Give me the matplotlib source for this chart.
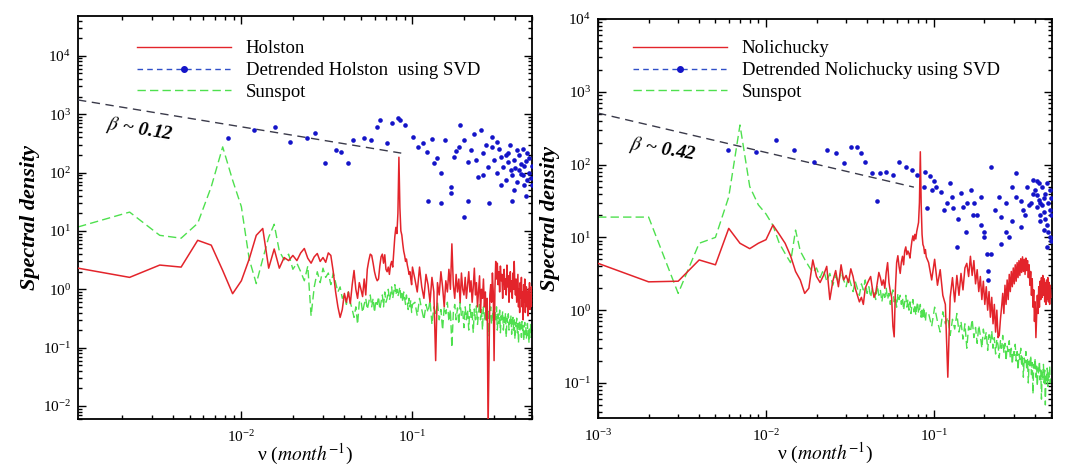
import numpy as np
import matplotlib.pyplot as plt
from matplotlib.lines import Line2D
from matplotlib.ticker import NullFormatter

plt.rcParams['font.family'] = ['Liberation Serif', 'DejaVu Serif']
plt.rcParams['mathtext.fontset'] = 'stix'

# record lengths in months -> harmonic k sits at k / n
n_hol = 900
n_nol = 1000

# ---- Holston panel ----
# harmonics 1..90
holston_lo = [2.3, 1.6, 2.6, 2.4, 6.9, 5.7, 2.1, 0.84, 1.4, 3.3,
              8.4, 11, 2.3, 4.9, 2.3, 3.5, 3.1, 3.8, 3.1, 4.2,
              5.0, 3.4, 2.8, 3.6, 4.1, 3.0, 3.5, 2.9, 4.2, 3.8,
              2.0, 0.9, 0.5, 0.33, 0.45, 0.85, 0.6, 0.9, 0.57, 1.2,
              2.1, 1.0, 0.7, 1.3, 1.0, 0.75, 1.5, 0.8, 2.2, 3.1,
              4.0, 3.8, 2.8, 2.0, 1.6, 1.4, 1.5, 2.5, 3.6, 4.0,
              2.8, 3.9, 2.2, 2.0, 2.4, 1.8, 2.6, 3.0, 2.4, 4.5,
              8.0, 11.5, 9.0, 20, 183, 25, 10, 8.5, 6.0, 4.5,
              3.8, 3.0, 3.3, 2.6, 2.2, 1.8, 2.0, 1.5, 1.2, 2.4]
# harmonics 93, 96, ... 450
holston_hi = [1.5, 0.9, 2.4, 1.1, 0.7, 1.8, 1.2, 0.6, 1.6, 0.9,
              0.06, 1.3, 0.8, 2.0, 1.1, 0.5, 1.4, 0.9, 2.2, 1.0,
              6.0, 1.2, 0.7, 1.8, 0.9, 1.5, 0.6, 1.9, 1.0, 0.8,
              1.6, 0.7, 1.2, 2.0, 0.9, 1.4, 0.6, 1.1, 2.3, 0.8,
              1.3, 0.5, 0.9, 1.7, 0.4, 1.0, 0.7, 1.5, 0.5, 0.9,
              0.3, 0.7, 0.004, 0.05, 0.8, 1.2, 0.6, 1.9, 0.9, 0.06,
              1.0, 3.0, 1.5, 2.8, 1.2, 2.0, 0.9, 2.5, 1.4, 1.8,
              0.7, 1.6, 2.2, 1.0, 1.5, 0.8, 2.6, 1.1, 1.7, 0.6,
              1.3, 2.0, 0.9, 1.4, 0.7, 1.9, 1.0, 3.0, 1.2, 0.8,
              1.5, 0.6, 1.1, 1.8, 0.5, 1.0, 0.4, 1.3, 0.7, 1.6,
              0.5, 0.9, 0.3, 1.2, 0.6, 1.5, 0.4, 0.8, 1.1, 0.5,
              0.9, 0.35, 1.0, 0.6, 1.3, 0.45, 0.8, 0.5, 1.1, 0.7]
sun_l_lo = [11.7, 21, 8.4, 7.5, 13.5, 57, 275, 74, 26, 3.3,
            1.25, 3.3, 7.8, 13, 4.5, 3.2, 4.0, 2.2, 2.8, 2.0,
            1.4, 2.5, 0.35, 1.1, 2.0, 1.3, 2.3, 1.6, 1.9, 1.2,
            1.9, 1.3, 0.9, 1.1, 0.7, 0.8, 0.55, 0.9, 0.6, 0.45,
            0.33, 0.5, 0.25, 0.6, 0.65, 0.4, 0.55, 0.7, 0.45, 0.6,
            0.8, 0.5, 0.7, 0.4, 0.65, 0.55, 0.75, 0.45, 0.6, 0.8,
            0.5, 0.9, 0.6, 0.7, 1.0, 0.65, 0.8, 1.1, 0.7, 0.9,
            1.2, 0.8, 1.0, 0.75, 0.9, 1.1, 0.7, 0.85, 0.6, 0.9,
            0.7, 0.55, 0.8, 0.6, 0.45, 0.7, 0.5, 0.65, 0.4, 0.55]
sun_l_hi = [0.6, 0.35, 0.7, 0.45, 0.3, 0.55, 0.4, 0.65, 0.25, 0.5,
            0.35, 0.6, 0.3, 0.45, 0.2, 0.5, 0.38, 0.6, 0.28, 0.45,
            0.1, 0.4, 0.55, 0.3, 0.48, 0.25, 0.6, 0.35, 0.42, 0.22,
            0.5, 0.3, 0.45, 0.2, 0.55, 0.33, 0.4, 0.18, 0.46, 0.3,
            0.52, 0.25, 0.38, 0.6, 0.3, 0.45, 0.2, 0.5, 0.35, 0.28,
            0.55, 0.3, 0.42, 0.16, 0.4, 0.5, 0.25, 0.36, 0.45, 0.22,
            0.4, 0.3, 0.5, 0.2, 0.38, 0.26, 0.44, 0.18, 0.35, 0.28,
            0.42, 0.2, 0.33, 0.25, 0.4, 0.15, 0.32, 0.27, 0.38, 0.2,
            0.3, 0.24, 0.36, 0.17, 0.28, 0.33, 0.2, 0.3, 0.14, 0.27,
            0.22, 0.32, 0.18, 0.26, 0.12, 0.24, 0.3, 0.19, 0.25, 0.15,
            0.28, 0.2, 0.24, 0.13, 0.22, 0.27, 0.17, 0.23, 0.14, 0.21,
            0.26, 0.16, 0.2, 0.12, 0.22, 0.18, 0.25, 0.15, 0.2, 0.17]
svd_l_f = [0.0083, 0.0118, 0.0158, 0.0193, 0.0243, 0.0271, 0.031, 0.0355, 0.038, 0.042,
           0.045, 0.052, 0.057, 0.062, 0.065, 0.071, 0.076, 0.082, 0.085, 0.091,
           0.101, 0.108, 0.116, 0.122, 0.133, 0.146, 0.156, 0.167, 0.174, 0.186,
           0.19, 0.2, 0.21, 0.22, 0.234, 0.24, 0.25, 0.26, 0.275, 0.28,
           0.29, 0.30, 0.31, 0.33, 0.34, 0.35, 0.36, 0.375, 0.38, 0.39,
           0.2, 0.124, 0.146, 0.168, 0.27, 0.32, 0.36, 0.40, 0.42, 0.44,
           0.46, 0.48, 0.50, 0.41, 0.43, 0.45, 0.47, 0.49, 0.37, 0.33,
           0.29, 0.23, 0.18, 0.14, 0.13, 0.21, 0.26, 0.31, 0.35, 0.38,
           0.44, 0.42, 0.39, 0.46, 0.5, 0.48, 0.43, 0.45, 0.41, 0.47]
svd_l_v = [390, 535, 600, 330, 390, 470, 145, 240, 225, 145,
           360, 390, 360, 600, 800, 320, 700, 850, 800, 650,
           410, 270, 320, 225, 145, 100, 360, 56, 185, 270,
           650, 360, 33, 240, 165, 83, 535, 215, 123, 30,
           270, 165, 98, 185, 123, 74, 215, 110, 33, 165,
           17, 33, 30, 44, 300, 250, 150, 120, 200, 90,
           160, 100, 130, 70, 140, 60, 220, 80, 300, 60,
           400, 450, 230, 180, 380, 150, 90, 330, 200, 90,
           250, 110, 50, 40, 60, 180, 95, 130, 240, 75]
fit_l_f = [1.11e-3, 0.086]
fit_l_v = [1750, 215]

# ---- Nolichucky panel ----
nol_lo = [4.4, 2.45, 2.5, 4.9, 4.2, 13.3, 8.3, 7.0, 8.3, 9.3,
          14.8, 11, 8.3, 5.6, 3.4, 2.6, 1.7, 2.0, 4.9, 2.9,
          2.4, 3.0, 4.0, 1.4, 2.5, 3.5, 2.1, 4.2, 2.6, 3.0,
          2.4, 3.7, 2.9, 2.0, 1.6, 1.3, 1.5, 1.2, 2.0, 2.3,
          2.6, 2.9, 2.0, 1.5, 1.7, 2.4, 3.3, 2.8, 2.2, 2.6,
          2.0, 3.3, 4.5, 2.4, 1.8, 1.5, 0.6, 0.43, 2.0, 4.5,
          5.6, 4.0, 3.2, 4.6, 5.5, 4.2, 6.5, 7.4, 5.8, 6.5,
          6.0, 5.2, 7.0, 9.0, 10.5, 9.0, 11, 9.5, 12, 14,
          16, 30, 150, 28, 11, 8.0, 7.4, 6.0, 6.8, 5.4]
# harmonics 93, 97, ... 497
nol_hi = [4.5, 2.6, 5.0, 2.2, 3.6, 1.6, 1.2, 0.12, 1.5, 2.8,
          1.3, 3.0, 1.6, 3.2, 1.9, 3.8, 4.4, 2.9, 5.5, 3.0,
          4.8, 2.3, 3.6, 1.8, 2.9, 1.4, 2.5, 1.2, 2.1, 1.0,
          1.8, 0.8, 1.5, 0.65, 1.2, 0.5, 1.0, 0.42, 0.45, 0.75,
          1.1, 1.7, 0.9, 2.2, 1.2, 2.6, 1.4, 3.1, 1.8, 3.4,
          2.1, 3.8, 2.3, 4.2, 2.5, 4.5, 2.8, 4.8, 3.0, 5.1,
          3.3, 5.4, 3.4, 5.0, 3.1, 5.2, 3.5, 4.8, 2.8, 4.2,
          2.2, 3.4, 1.6, 2.7, 1.1, 1.9, 0.7, 1.3, 0.42, 0.85,
          1.6, 0.9, 2.1, 1.1, 2.5, 1.4, 2.8, 1.5, 3.0, 1.6,
          2.7, 1.3, 2.4, 1.2, 2.6, 1.4, 2.8, 1.3, 2.4, 1.2,
          2.2, 1.5]
sun_r_lo = [19, 19, 1.7, 8.3, 10, 36, 350, 50, 28, 21,
            14.6, 8.3, 6.0, 4.5, 12.6, 6.5, 5.0, 4.0, 3.3, 3.8,
            2.8, 3.6, 2.5, 3.2, 2.2, 3.0, 2.4, 3.4, 2.6, 2.1,
            2.9, 2.3, 1.8, 2.5, 2.0, 1.6, 2.3, 1.9, 2.6, 1.7,
            2.1, 1.5, 2.0, 1.8, 1.4, 2.2, 1.6, 1.9, 1.3, 1.8,
            1.5, 2.0, 1.4, 1.7, 1.2, 1.6, 1.9, 1.3, 1.5, 1.1,
            1.7, 1.4, 1.6, 1.2, 1.5, 1.0, 1.3, 1.6, 1.1, 1.4,
            1.0, 1.3, 0.9, 1.2, 1.4, 0.95, 1.2, 0.85, 1.1, 1.3,
            0.9, 1.0, 1.2, 0.8, 1.0, 0.75, 1.1, 0.85, 0.7, 0.95]
sun_r_hi = [0.9, 0.6, 1.1, 0.7, 0.5, 0.95, 0.65, 0.8, 0.45, 0.75,
            0.55, 0.9, 0.5, 0.7, 0.4, 0.65, 0.3, 0.6, 0.5, 0.75,
            0.42, 0.58, 0.35, 0.62, 0.45, 0.3, 0.55, 0.4, 0.5, 0.28,
            0.46, 0.36, 0.52, 0.3, 0.42, 0.25, 0.4, 0.33, 0.22, 0.38,
            0.3, 0.45, 0.26, 0.35, 0.2, 0.32, 0.27, 0.38, 0.22, 0.3,
            0.18, 0.28, 0.24, 0.34, 0.2, 0.27, 0.15, 0.25, 0.21, 0.3,
            0.17, 0.24, 0.12, 0.22, 0.19, 0.27, 0.15, 0.21, 0.1, 0.2,
            0.16, 0.24, 0.13, 0.19, 0.07, 0.18, 0.15, 0.22, 0.12, 0.17,
            0.09, 0.16, 0.13, 0.2, 0.11, 0.15, 0.06, 0.14, 0.12, 0.18,
            0.1, 0.15, 0.05, 0.13, 0.11, 0.16, 0.09, 0.14, 0.12, 0.17,
            0.1, 0.13]
svd_r_f = [0.0059, 0.0087, 0.0115, 0.0147, 0.0193, 0.023, 0.026, 0.029, 0.032, 0.035,
           0.037, 0.039, 0.043, 0.046, 0.048, 0.052, 0.057, 0.062, 0.068, 0.074,
           0.079, 0.087, 0.091, 0.097, 0.103, 0.11, 0.115, 0.12, 0.128, 0.137,
           0.145, 0.15, 0.157, 0.166, 0.173, 0.18, 0.19, 0.2, 0.206, 0.21,
           0.22, 0.23, 0.243, 0.25, 0.27, 0.28, 0.29, 0.31, 0.31, 0.33,
           0.34, 0.36, 0.38, 0.39, 0.41, 0.43, 0.45, 0.47, 0.49, 0.40,
           0.41, 0.42, 0.43, 0.44, 0.45, 0.46, 0.47, 0.48, 0.49, 0.5,
           0.44, 0.46, 0.48, 0.5, 0.47, 0.49, 0.42, 0.45, 0.5, 0.43,
           0.41, 0.39, 0.37, 0.35, 0.33, 0.29, 0.27, 0.25, 0.22, 0.21,
           0.2, 0.19, 0.17, 0.155, 0.14, 0.13, 0.125, 0.1, 0.095, 0.088]
svd_r_v = [158, 150, 217, 158, 108, 158, 144, 105, 175, 175,
           144, 108, 77, 32, 77, 79, 72, 108, 92, 84,
           72, 49, 25, 45, 49, 42, 24, 30, 36, 7.4,
           41, 26, 30, 45, 30, 20, 36, 10, 6, 2.6,
           92, 24, 36, 19, 30, 10, 49, 77, 36, 32,
           24, 49, 30, 61, 26, 17, 12.6, 7.4, 24, 45,
           38, 33, 30, 28, 22, 18, 15, 12, 10, 9,
           50, 40, 30, 20, 55, 45, 55, 35, 35, 20,
           60, 40, 28, 20, 14, 17, 12, 8, 6, 3.5,
           12, 15, 20, 12, 18, 25, 55, 60, 70, 80]
fit_r_f = [1.0e-3, 0.076]
fit_r_v = [510, 49]

# decade ticks shown on each frequency axis
xticks_l = [1e-2, 1e-1]
xticks_r = [1e-3, 1e-2, 1e-1]

red = '#e3242b'
green = '#4ee04e'
blue = '#1414c8'
fitc = '#3a3a4a'


def harmonics(lo, hi, start, step, n):
    k_lo = np.arange(1, len(lo) + 1)
    k_hi = start + step * np.arange(len(hi))
    return np.concatenate([k_lo, k_hi]) / n, np.concatenate([lo, hi])


fig = plt.figure(figsize=(10.69, 4.72), dpi=100)
ax1 = fig.add_axes([0.073, 0.1123, 0.4247, 0.8538])
ax2 = fig.add_axes([0.5594, 0.1144, 0.4247, 0.8453])

panels = [
    (ax1, holston_lo, holston_hi, 3, n_hol, sun_l_lo, sun_l_hi, 3, svd_l_f, svd_l_v,
     fit_l_f, fit_l_v, 'Holston', 'Detrended Holston  using SVD',
     (1.11e-3, 0.5), (6e-3, 4.8e4), r'0.12', (0.137, 0.7175), (0.13, 0.94), xticks_l),
    (ax2, nol_lo, nol_hi, 4, n_nol, sun_r_lo, sun_r_hi, 4, svd_r_f, svd_r_v,
     fit_r_f, fit_r_v, 'Nolichucky', 'Detrended Nolichucky using SVD',
     (0.999e-3, 0.505), (0.033, 1.0001e4), r'0.42', (0.143, 0.672), (0.077, 0.947), xticks_r),
]

for (ax, rlo, rhi, rstep, n, slo, shi, sstep, bf, bv, ff, fv, name, dname,
     xl, yl, beta, bpos, lpos, xt) in panels:
    f_r, p_r = harmonics(rlo, rhi, 93, rstep, n)
    f_s, p_s = harmonics(slo, shi, 93, sstep, n)
    ax.plot(f_r, p_r, color=red, lw=1.1, zorder=3)
    ax.plot(f_s, p_s, color=green, lw=1.0, ls=(0, (6, 3)), zorder=2)
    ax.plot(ff, fv, color=fitc, lw=1.0, ls=(0, (6, 4)), zorder=4)
    ax.scatter(bf, bv, s=11, color=blue, zorder=5, linewidths=0)
    ax.set_xscale('log')
    ax.set_yscale('log')
    ax.set_xticks(xt)
    ax.set_xlim(*xl)
    ax.set_ylim(*yl)
    ax.xaxis.set_minor_formatter(NullFormatter())
    ax.yaxis.set_minor_formatter(NullFormatter())

    ax.text(bpos[0], bpos[1], r'$\beta$ ~ ' + beta, transform=ax.transAxes,
            fontsize=14, fontweight='bold', style='italic', rotation=-9,
            ha='center', va='center', zorder=6)

    handles = [Line2D([0], [0], color=red, lw=1.0),
               Line2D([0], [0], color='#3050c8', lw=1.0, ls=(0, (4, 3)),
                      marker='o', markersize=4, markerfacecolor=blue,
                      markeredgecolor=blue),
               Line2D([0], [0], color=green, lw=1.0, ls=(0, (6, 3)))]
    ax.legend(handles, [name, dname, 'Sunspot'], loc='upper left',
              bbox_to_anchor=lpos, frameon=False, fontsize=13.5,
              handlelength=5.0, handletextpad=0.8, labelspacing=0.25,
              borderpad=0, borderaxespad=0, numpoints=1)

    ax.set_ylabel('Spectral density', fontsize=16, fontweight='bold',
                  style='italic', labelpad=2)
    ax.set_xlabel('ν (' + r'$\mathit{month}^{-1}$' + ')', fontsize=14, labelpad=-2)
    ax.tick_params(which='both', direction='in', top=True, right=True, width=1.0)
    ax.tick_params(which='major', length=6, labelsize=11)
    ax.tick_params(which='minor', length=3)
    ax.tick_params(axis='x', which='major', pad=7)
    ax.tick_params(axis='y', which='major', pad=5)
    for s in ax.spines.values():
        s.set_linewidth(1.3)

fig.savefig('out.png', dpi=100)
